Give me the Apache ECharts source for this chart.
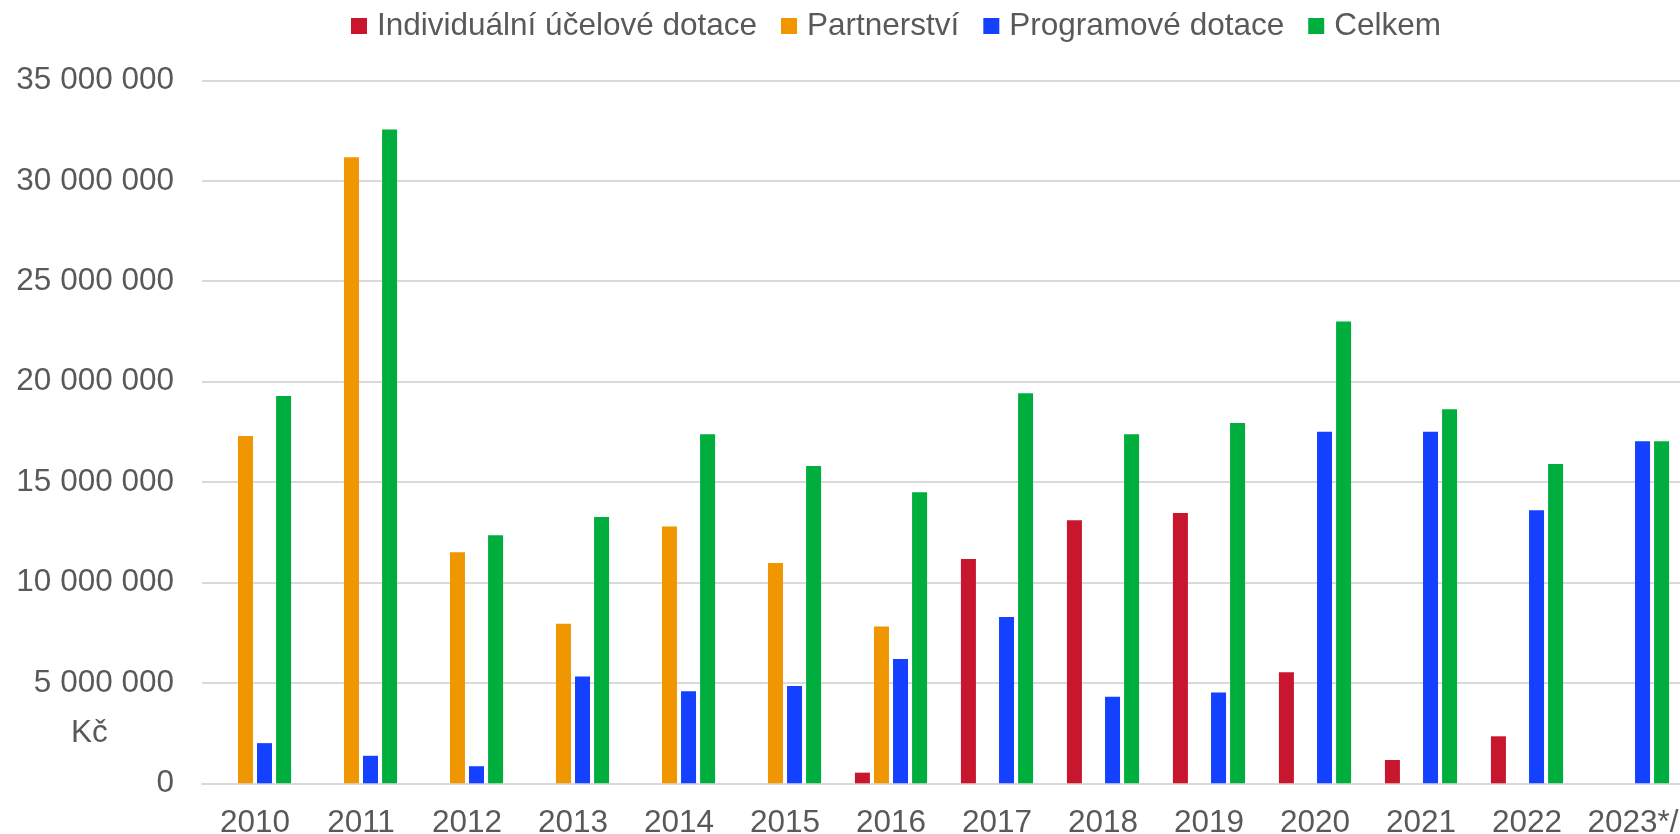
<!DOCTYPE html>
<html>
<head>
<meta charset="utf-8">
<title>Dotace podle let</title>
<script src="https://cdn.jsdelivr.net/npm/echarts@6/dist/echarts.min.js"></script>
<style>
    html, body { margin: 0; padding: 0; background: #fff; }
    #chart { width: 1680px; height: 834px; }
</style>
</head>
<body>
<div id="chart"></div>
<script>
// years on the x axis
const years = ['2010', '2011', '2012', '2013', '2014', '2015', '2016',
    '2017', '2018', '2019', '2020', '2021', '2022', '2023*/'];

// Kč (null = no bar)
const individualni = [null, null, null, null, null, null, 530000,
    11170000, 13100000, 13460000, 5530000, 1160000, 2340000, null];
const partnerstvi = [17290000, 31170000, 11500000, 7950000, 12790000, 10970000, 7810000,
    null, null, null, null, null, null, null];
const programove = [2000000, 1370000, 850000, 5320000, 4580000, 4850000, 6190000,
    8280000, 4310000, 4520000, 17510000, 17510000, 13600000, 17030000];
const celkem = [19290000, 32550000, 12350000, 13260000, 17380000, 15800000, 14490000,
    19420000, 17380000, 17940000, 22990000, 18620000, 15900000, 17030000];

const seriesNames = ['Individuální účelové dotace', 'Partnerství', 'Programové dotace', 'Celkem'];
const seriesColors = ['#C8162E', '#F09600', '#1441FF', '#00AE3E'];

const FONT = '"Liberation Sans", Arial, sans-serif';
const TEXT_COLOR = '#595959';

/**
 * Formats a number with spaces as thousands separators.
 * @param {number} value - Axis value.
 * @returns {string} - Formatted label.
 */
const formatKc = (value) => String(value).replace(/\B(?=(\d{3})+(?!\d))/g, ' ');

const chart = echarts.init(document.getElementById('chart'));

const makeBar = (name, data, color) => ({
    name: name,
    type: 'bar',
    data: data,
    barWidth: 15,
    barGap: '27%',
    itemStyle: { color: color },
    emphasis: { disabled: true },
});

chart.setOption({
    animation: false,
    textStyle: { fontFamily: FONT },
    legend: {
        left: 346,
        top: 5,
        itemWidth: 16,
        itemHeight: 16,
        itemGap: 24,
        icon: 'rect',
        textStyle: {
            fontFamily: FONT,
            fontSize: 31.5,
            color: TEXT_COLOR,
            padding: [0, 0, 0, 5],
        },
        data: seriesNames,
    },
    grid: {
        left: 202,
        top: 80.4,
        width: 1484,
        bottom: 50.7,
        containLabel: false,
        outerBoundsMode: 'none',
    },
    xAxis: {
        type: 'category',
        data: years,
        axisTick: { show: false },
        axisLine: { lineStyle: { color: '#d9d9d9', width: 2 } },
        axisLabel: {
            fontFamily: FONT,
            fontSize: 31.5,
            color: TEXT_COLOR,
            margin: 24,
            interval: 0,
        },
    },
    yAxis: {
        type: 'value',
        min: 0,
        max: 35000000,
        interval: 5000000,
        axisLine: { show: false },
        axisTick: { show: false },
        splitLine: { lineStyle: { color: '#d9d9d9', width: 2 } },
        axisLabel: {
            fontFamily: FONT,
            fontSize: 31.5,
            color: TEXT_COLOR,
            margin: 28,
            formatter: formatKc,
        },
    },
    graphic: [{
        type: 'text',
        left: 71,
        top: 717,
        style: {
            text: 'Kč',
            font: '31.5px ' + FONT,
            fill: TEXT_COLOR,
        },
    }],
    series: [
        makeBar(seriesNames[0], individualni, seriesColors[0]),
        makeBar(seriesNames[1], partnerstvi, seriesColors[1]),
        makeBar(seriesNames[2], programove, seriesColors[2]),
        makeBar(seriesNames[3], celkem, seriesColors[3]),
    ],
});

window.addEventListener('resize', chart.resize);
</script>
</body>
</html>
